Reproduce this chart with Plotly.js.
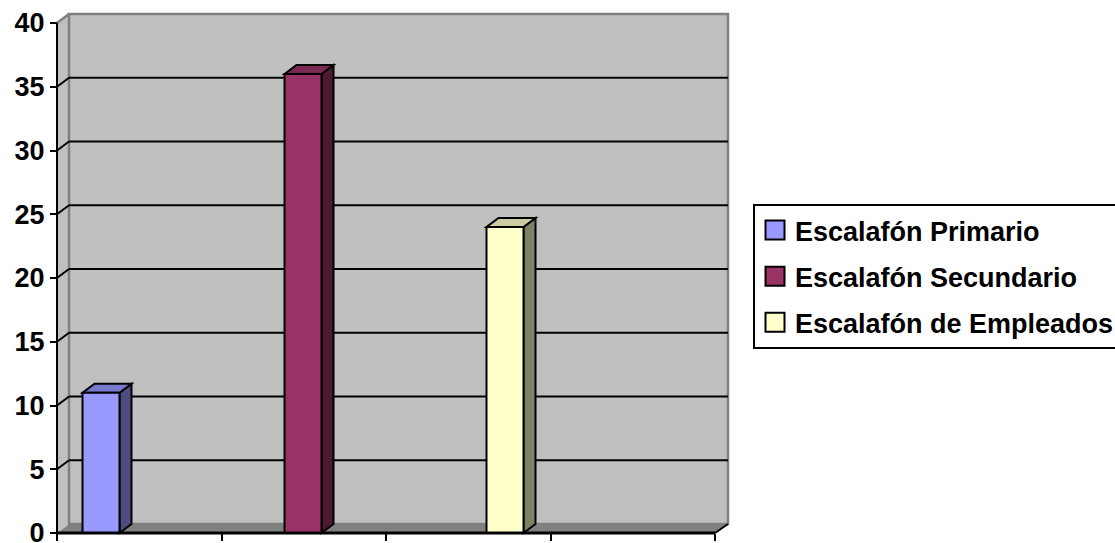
<!DOCTYPE html>
<html><head><meta charset="utf-8">
<script src="https://cdn.plot.ly/plotly-3.0.1.min.js"></script>
<style>html,body{margin:0;padding:0;background:#fff;} #chart{width:1115px;height:543px;}</style>
</head><body><div id="chart"></div>
<script>
// ---- data ----
const seriesNames = ['Escalafón Primario', 'Escalafón Secundario', 'Escalafón de Empleados'];
const seriesValues = [11, 36, 24];
const yTickValues = [0, 5, 10, 15, 20, 25, 30, 35, 40];
const yTickLabels = ['0', '5', '10', '15', '20', '25', '30', '35', '40'];

// ---- styles ----
const frontColors = ['#9999FF', '#993366', '#FFFFCC'];
const topColors = ['#7A7ACC', '#7A2952', '#CCCCA3'];
const sideColors = ['#4D4D80', '#4D1A33', '#808066'];
const FONT = 'Liberation Sans, Arial, sans-serif';

// ---- geometry (pixels) ----
const W = 1115, H = 543;
const G = {axisX: 57, frontRight: 715, backRight: 728, floorY: 533, topY: 23,
           dx: 12, dy: 9, pad: 6, bar0: 101, barStep: 202, barW: 37};
const yMax = 40;
const yPer = (G.floorY - G.topY) / yMax;
const plotL = G.axisX - G.pad, plotR = G.backRight + G.pad;
const plotB = G.floorY + G.pad, plotT = G.topY - G.dy - G.pad;
const xOf = px => (px - G.bar0) / G.barStep;
const yOf = py => (G.floorY - py) / yPer;
const DX = G.dx / G.barStep, DY = G.dy / yPer;
const xA = xOf(G.axisX), xF = xOf(G.frontRight), xB = xOf(G.backRight);
const hw = G.barW / G.barStep / 2;

const shapes = [];
const grayEdge = '#808080';
// floor
shapes.push({type: 'path', path: `M${xA},0 L${xF},0 L${xB},${DY} L${xA + DX},${DY} Z`,
  fillcolor: '#808080', line: {width: 0}, layer: 'below'});
// side wall
shapes.push({type: 'path', path: `M${xA},0 L${xA},${yMax} L${xA + DX},${yMax + DY} L${xA + DX},${DY} Z`,
  fillcolor: '#C0C0C0', line: {width: 0}, layer: 'below'});
// back wall
shapes.push({type: 'rect', x0: xA + DX, x1: xB, y0: DY, y1: yMax + DY,
  fillcolor: '#C0C0C0', line: {color: grayEdge, width: 2.5}, layer: 'below'});
shapes.push({type: 'line', x0: xA, y0: yMax, x1: xA + DX, y1: yMax + DY,
  line: {color: grayEdge, width: 2.5}, layer: 'below'});
// gridlines
yTickValues.filter(v => v > 0 && v < yMax).forEach(v => {
  shapes.push({type: 'line', x0: xA + DX, x1: xB, y0: v + DY, y1: v + DY, line: {color: '#000', width: 2}, layer: 'below'});
  shapes.push({type: 'line', x0: xA, x1: xA + DX, y0: v, y1: v + DY, line: {color: '#000', width: 2}, layer: 'below'});
});
// 3D faces of bars
seriesValues.forEach((v, i) => {
  const l = i - hw, r = i + hw;
  shapes.push({type: 'path', path: `M${r},0 L${r + DX},${DY} L${r + DX},${v + DY} L${r},${v} Z`,
    fillcolor: sideColors[i], line: {color: '#000', width: 2}, layer: 'below'});
  shapes.push({type: 'path', path: `M${l},${v} L${r},${v} L${r + DX},${v + DY} L${l + DX},${v + DY} Z`,
    fillcolor: topColors[i], line: {color: '#000', width: 2}, layer: 'below'});
});
// axis lines
shapes.push({type: 'line', x0: xA, x1: xA, y0: 0, y1: yMax, line: {color: '#000', width: 2}, layer: 'above'});
shapes.push({type: 'line', x0: xA, x1: xF, y0: 0, y1: 0, line: {color: '#000', width: 3}, layer: 'above'});
shapes.push({type: 'line', x0: xF, x1: xB, y0: 0, y1: DY, line: {color: '#000', width: 2}, layer: 'above'});

const traces = seriesNames.map((name, i) => ({
  type: 'bar', x: [i], y: [seriesValues[i]], width: 2 * hw, name: '<b>' + name + '</b>',
  legendgroup: 'g' + i,
  marker: {color: frontColors[i], line: {color: '#000', width: 2}},
  hoverinfo: 'name+y'
}));

const layout = {
  width: W, height: H,
  margin: {l: plotL, r: W - plotR, t: plotT, b: H - plotB, autoexpand: false},
  paper_bgcolor: '#fff', plot_bgcolor: '#fff',
  barmode: 'overlay',
  showlegend: true,
  xaxis: {
    range: [xOf(plotL), xOf(plotR)], anchor: 'free',
    position: (plotB - G.floorY) / (plotB - plotT),
    showgrid: false, zeroline: false, showline: false,
    tickmode: 'array', tickvals: [0, 1, 2, 3, 4].map(k => xA + k * (xF - xA) / 4),
    ticks: 'outside', ticklen: 7, tickwidth: 2, tickcolor: '#000',
    showticklabels: false, fixedrange: true
  },
  yaxis: {
    range: [yOf(plotB), yOf(plotT)], anchor: 'free',
    position: (G.axisX - plotL) / (plotR - plotL),
    showgrid: false, zeroline: false, showline: false,
    tickmode: 'array', tickvals: yTickValues, ticktext: yTickLabels.map(t => '<b>' + t + '</b>'),
    ticks: 'outside', ticklen: 7, tickwidth: 2, tickcolor: '#000',
    ticklabeloverflow: 'allow',
    tickfont: {family: FONT, size: 27, color: '#000'},
    fixedrange: true
  },
  legend: {
    x: (753 - plotL) / (plotR - plotL), xanchor: 'left',
    y: (plotB - 204) / (plotB - plotT), yanchor: 'top',
    bordercolor: '#000', borderwidth: 2, bgcolor: '#fff',
    font: {family: FONT, size: 27, color: '#000'},
    traceorder: 'grouped', tracegroupgap: 8, itemclick: false, itemdoubleclick: false
  },
  shapes: shapes
};

Plotly.newPlot('chart', traces, layout, {displayModeBar: false, staticPlot: true}).then(() => {
  document.querySelectorAll('.legend .legendpoints path').forEach(p => {
    p.setAttribute('d', 'M9.5,9.5H-9.5V-9.5H9.5Z');
    p.style.strokeWidth = '2px';
  });
});
</script>
</body></html>
